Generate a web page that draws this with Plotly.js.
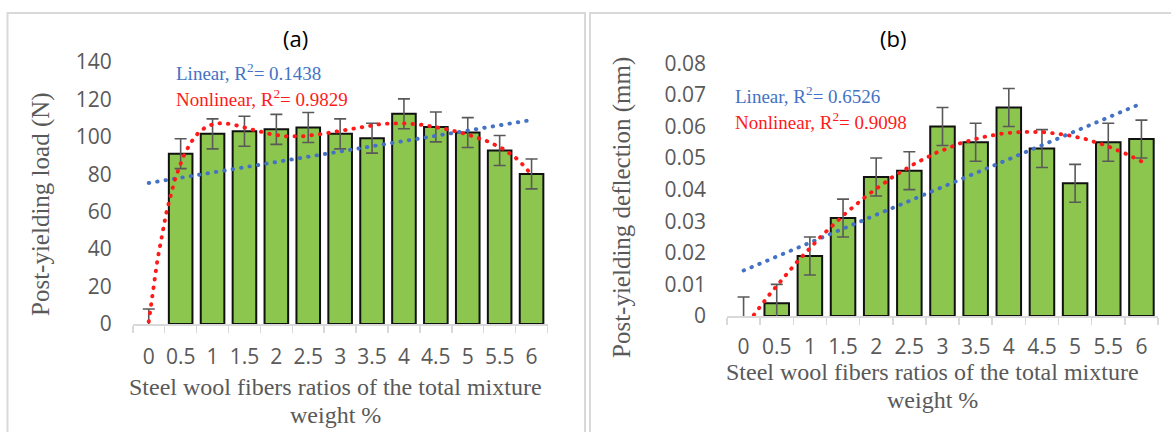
<!DOCTYPE html>
<html>
<head>
<meta charset="utf-8">
<script src="https://cdn.plot.ly/plotly-3.0.1.min.js"></script>
<style>
  html, body { margin: 0; padding: 0; background: #fff; }
  #chart { width: 1171px; height: 432px; }
  /* round caps turn the sparse dash pattern into round dots */
  .js-line { stroke-linecap: round; }
</style>
</head>
<body>
<div id="chart"></div>
<script>
// Steel wool fibre ratio (% of total mixture weight)
const ratios = ['0', '0.5', '1', '1.5', '2', '2.5', '3', '3.5', '4', '4.5', '5', '5.5', '6'];

// (a) post-yielding load, N
const loadN   = [0, 91, 101.6, 103, 104, 105, 101.6, 99.3, 112.3, 105.3, 102.3, 92.7, 80.2];
const loadErr = [8, 8, 8, 8, 8, 8, 8, 8, 8, 8, 8, 8, 8];

// (b) post-yielding deflection, mm
const deflMm   = [0, 0.004, 0.019, 0.031, 0.044, 0.046, 0.060, 0.055, 0.066, 0.053, 0.042, 0.055, 0.056];
const deflErr  = [0.006, 0.006, 0.006, 0.006, 0.006, 0.006, 0.006, 0.006, 0.006, 0.006, 0.006, 0.006, 0.006];

// Trendline labels
const fitLabelsA = ['Linear, R<sup>2</sup>= 0.1438', 'Nonlinear, R<sup>2</sup>= 0.9829'];
const fitLabelsB = ['Linear, R<sup>2</sup>= 0.6526', 'Nonlinear, R<sup>2</sup>= 0.9098'];

const xTitleLines = ['Steel wool fibers ratios of the total mixture', 'weight %'];

// ---- least-squares polynomial trendline over the category index ----
function polyFit(ys, degree) {
  const n = ys.length, c = (n - 1) / 2;
  const ts = ys.map((_, i) => (i - c) / c);
  const m = degree + 1;
  const A = Array.from({length: m}, () => new Array(m + 1).fill(0));
  for (let k = 0; k < n; k++) {
    const p = [];
    for (let j = 0; j < m; j++) p.push(Math.pow(ts[k], j));
    for (let r = 0; r < m; r++) {
      for (let s = 0; s < m; s++) A[r][s] += p[r] * p[s];
      A[r][m] += p[r] * ys[k];
    }
  }
  for (let col = 0; col < m; col++) {
    let piv = col;
    for (let r = col + 1; r < m; r++) if (Math.abs(A[r][col]) > Math.abs(A[piv][col])) piv = r;
    [A[col], A[piv]] = [A[piv], A[col]];
    for (let r = 0; r < m; r++) {
      if (r === col) continue;
      const f = A[r][col] / A[col][col];
      for (let s = col; s <= m; s++) A[r][s] -= f * A[col][s];
    }
  }
  const coef = A.map((row, i) => row[m] / row[i]);
  return (idx) => {
    const t = (idx - c) / c;
    return coef.reduce((acc, a, j) => acc + a * Math.pow(t, j), 0);
  };
}

function trendTrace(ys, degree, color, xa, ya) {
  const f = polyFit(ys, degree);
  const xs = [], vs = [];
  const steps = 600;
  for (let s = 0; s <= steps; s++) {
    const idx = (ys.length - 1) * s / steps;
    xs.push(idx); vs.push(f(idx));
  }
  return {
    type: 'scatter', mode: 'lines', x: xs, y: vs, xaxis: xa, yaxis: ya,
    line: {color: color, width: 3.9, dash: '0.5px,8px'},
    hoverinfo: 'skip'
  };
}

const GREEN = '#8DC64F', BLUE = '#4472C4', RED = '#FF1A1A', GREY = '#595959', FRAME = '#D9D9D9';

function barTrace(vals, errs, xa, ya) {
  return {
    type: 'bar', x: ratios, y: vals, xaxis: xa, yaxis: ya,
    // zero-height bars get no outline, so only their error bar shows
    marker: {color: GREEN, line: {color: '#111', width: vals.map(v => (v === 0 ? 0 : 2))}},
    error_y: {type: 'data', array: errs, visible: true, color: GREY, thickness: 1.6, width: 6},
    hoverinfo: 'skip'
  };
}

const data = [
  barTrace(loadN, loadErr, 'x', 'y'),
  trendTrace(loadN, 1, BLUE, 'x3', 'y'),
  trendTrace(loadN, 6, RED, 'x3', 'y'),
  barTrace(deflMm, deflErr, 'x2', 'y2'),
  trendTrace(deflMm, 1, BLUE, 'x4', 'y2'),
  trendTrace(deflMm, 2, RED, 'x4', 'y2')
];

const W = 1171, H = 432;
const px = (v) => v / W;
const py = (v) => 1 - v / H;

const tickFont = {family: 'Open Sans, sans-serif', size: 21, color: GREY};

function catAxis(domain, anchor, standoff) {
  return {
    type: 'category', domain: domain, anchor: anchor, range: [-0.5, 12.5],
    tickson: 'boundaries', ticks: 'outside', ticklen: 7, tickwidth: 1.5, tickcolor: FRAME,
    showline: true, linecolor: FRAME, linewidth: 1.5, showgrid: false, zeroline: false,
    tickangle: 0, tickfont: tickFont, ticklabelstandoff: standoff, fixedrange: true
  };
}
function overlayAxis(base, anchor) {
  return {overlaying: base, anchor: anchor, range: [-0.5, 12.5], visible: false, fixedrange: true};
}
function valAxis(domain, anchor, range, dtick) {
  return {
    domain: domain, anchor: anchor, range: range, dtick: dtick, tick0: 0,
    showgrid: false, showline: false, zeroline: false, ticks: '',
    tickfont: tickFont, ticklabelstandoff: 20, fixedrange: true
  };
}

const serif = 'Liberation Serif, Times New Roman, serif';
function ann(x, y, text, opts) {
  return Object.assign({xref: 'paper', yref: 'paper', x: px(x), y: py(y), text: text,
    showarrow: false, xanchor: 'center', yanchor: 'middle'}, opts);
}

const annotations = [
  ann(295, 38, '(a)', {font: {family: 'Open Sans, sans-serif', size: 22, color: '#000'}}),
  ann(893, 38, '(b)', {font: {family: 'Open Sans, sans-serif', size: 22, color: '#000'}}),
  ann(174, 72, fitLabelsA[0], {xanchor: 'left', font: {family: serif, size: 19, color: BLUE}}),
  ann(174, 98, fitLabelsA[1], {xanchor: 'left', font: {family: serif, size: 19, color: RED}}),
  ann(733, 95, fitLabelsB[0], {xanchor: 'left', font: {family: serif, size: 19, color: BLUE}}),
  ann(733, 121, fitLabelsB[1], {xanchor: 'left', font: {family: serif, size: 19, color: RED}}),
  ann(41, 204, 'Post-yielding load (N)', {textangle: -90, font: {family: serif, size: 25, color: GREY}}),
  ann(622, 208, 'Post-yielding deflection (mm)', {textangle: -90, font: {family: serif, size: 25, color: GREY}}),
  ann(335, 387, xTitleLines[0], {font: {family: serif, size: 24, color: GREY}}),
  ann(335, 415, xTitleLines[1], {font: {family: serif, size: 24, color: GREY}}),
  ann(932, 372, xTitleLines[0], {font: {family: serif, size: 24, color: GREY}}),
  ann(932, 400, xTitleLines[1], {font: {family: serif, size: 24, color: GREY}})
];

// light frames around the two panels
const shapes = [
  {type: 'rect', xref: 'paper', yref: 'paper', x0: px(7.5), x1: px(585), y0: -0.1, y1: py(13),
   line: {color: FRAME, width: 2}, fillcolor: 'rgba(0,0,0,0)', layer: 'below'},
  {type: 'rect', xref: 'paper', yref: 'paper', x0: px(590), x1: 1.1, y0: -0.1, y1: py(13),
   line: {color: FRAME, width: 2}, fillcolor: 'rgba(0,0,0,0)', layer: 'below'}
];

const layout = {
  width: W, height: H, margin: {l: 0, r: 0, t: 0, b: 0},
  paper_bgcolor: '#fff', plot_bgcolor: 'rgba(0,0,0,0)', showlegend: false,
  bargap: 0.26,
  xaxis:  catAxis([px(132.8), px(547.5)], 'y', 13),
  yaxis:  valAxis([py(324), py(62)], 'x', [0, 140], 20),
  xaxis3: overlayAxis('x', 'y'),
  xaxis2: catAxis([px(727), px(1158)], 'y2', 11),
  yaxis2: valAxis([py(316), py(63.3)], 'x2', [0, 0.08], 0.01),
  xaxis4: overlayAxis('x2', 'y2'),
  annotations: annotations,
  shapes: shapes
};

Plotly.newPlot('chart', data, layout, {staticPlot: true, displayModeBar: false});
</script>
</body>
</html>
